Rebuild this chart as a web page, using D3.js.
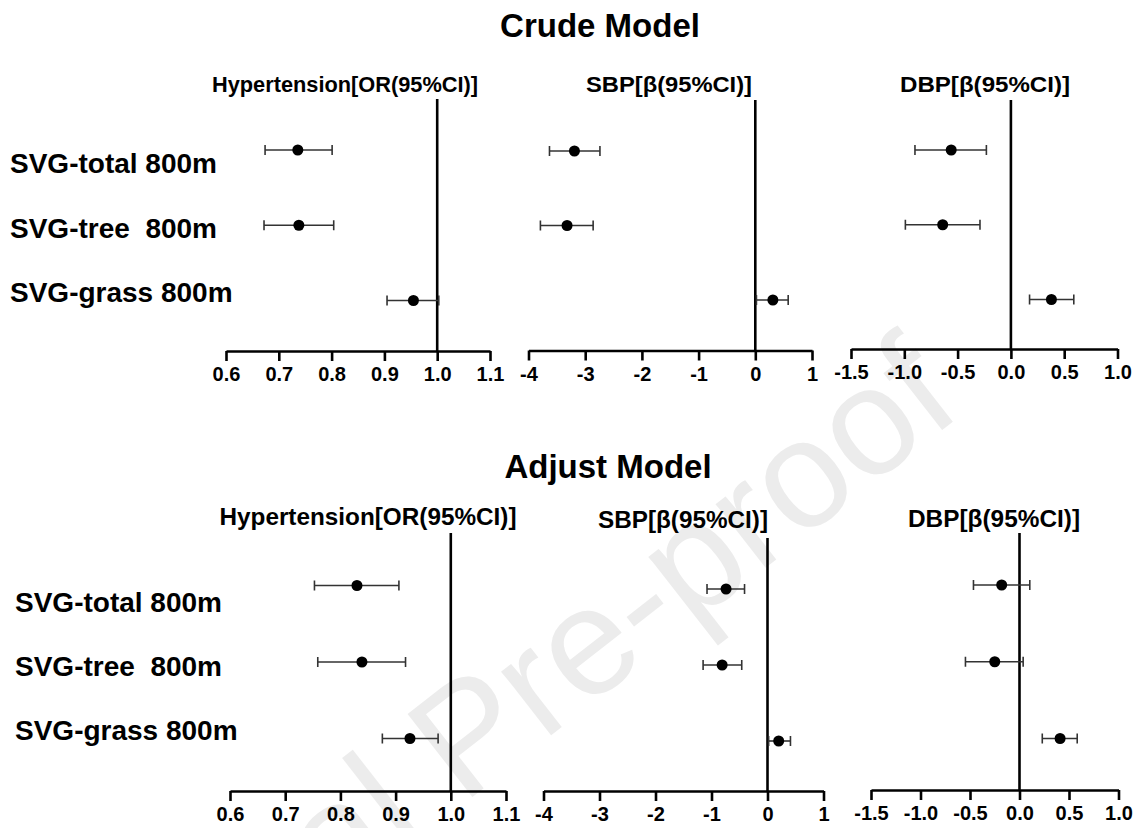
<!DOCTYPE html>
<html>
<head>
<meta charset="utf-8">
<script src="https://cdn.jsdelivr.net/npm/d3@7"></script>
<style>
  body { margin: 0; background: #fff; }
  svg { display: block; font-family: "Liberation Sans", Arial, sans-serif; }
</style>
</head>
<body>
<script>
// rows of both models
var categories = ["SVG-total 800m", "SVG-tree  800m", "SVG-grass 800m"];

// crude model
var crudeHtnOR = [0.736, 0.738, 0.955];
var crudeHtnLow = [0.674, 0.672, 0.905];
var crudeHtnHigh = [0.801, 0.804, 1.003];
var crudeSbpBeta = [-3.19, -3.32, 0.31];
var crudeSbpLow = [-3.63, -3.79, 0.02];
var crudeSbpHigh = [-2.74, -2.86, 0.58];
var crudeDbpBeta = [-0.56, -0.64, 0.38];
var crudeDbpLow = [-0.90, -0.99, 0.175];
var crudeDbpHigh = [-0.23, -0.29, 0.59];

// adjusted model
var adjHtnOR = [0.830, 0.839, 0.926];
var adjHtnLow = [0.753, 0.759, 0.876];
var adjHtnHigh = [0.906, 0.918, 0.977];
var adjSbpBeta = [-0.74, -0.81, 0.20];
var adjSbpLow = [-1.08, -1.15, 0.02];
var adjSbpHigh = [-0.41, -0.46, 0.41];
var adjDbpBeta = [-0.18, -0.25, 0.41];
var adjDbpLow = [-0.465, -0.546, 0.23];
var adjDbpHigh = [0.104, 0.037, 0.583];

// tick labels
var htnTicks = [0.6, 0.7, 0.8, 0.9, 1.0, 1.1];
var sbpTicks = [-4, -3, -2, -1, 0, 1];
var dbpTicks = [-1.5, -1.0, -0.5, 0.0, 0.5, 1.0];

var modelTitles = ["Crude Model", "Adjust Model"];
var panelTitles = ["Hypertension[OR(95%CI)]", "SBP[β(95%CI)]", "DBP[β(95%CI)]"];

var width = 1137, height = 828;
var locale = d3.formatLocale({decimal: ".", thousands: ",", grouping: [3], currency: ["", ""], minus: "-"});
var fmt1 = locale.format(".1f"), fmt0 = locale.format("d");

function rows(est, lo, hi) {
  return categories.map(function (c, i) { return {cat: c, est: est[i], lo: lo[i], hi: hi[i]}; });
}

// panel layout: x range, axis y, first/last row y, top of reference line, title centre/baseline
var panels = [
  {data: rows(crudeHtnOR, crudeHtnLow, crudeHtnHigh), ticks: htnTicks, fmt: fmt1, ref: 1, title: panelTitles[0],
   x: [226, 490], axisY: 351, rowY: [150, 300.5], top: 99, tx: 345, ty: 92, tlen: 266, fs: 22},
  {data: rows(crudeSbpBeta, crudeSbpLow, crudeSbpHigh), ticks: sbpTicks, fmt: fmt0, ref: 0, title: panelTitles[1],
   x: [528.5, 812], axisY: 350.5, rowY: [151, 300], top: 100, tx: 669, ty: 92, tlen: 166, fs: 22},
  {data: rows(crudeDbpBeta, crudeDbpLow, crudeDbpHigh), ticks: dbpTicks, fmt: fmt1, ref: 0, title: panelTitles[2],
   x: [851, 1117.5], axisY: 349, rowY: [150, 299.5], top: 100, tx: 985, ty: 92, tlen: 170, fs: 22},
  {data: rows(adjHtnOR, adjHtnLow, adjHtnHigh), ticks: htnTicks, fmt: fmt1, ref: 1, title: panelTitles[0],
   x: [230, 506], axisY: 791, rowY: [585.5, 738.5], top: 533, tx: 368, ty: 525, tlen: 297, fs: 24},
  {data: rows(adjSbpBeta, adjSbpLow, adjSbpHigh), ticks: sbpTicks, fmt: fmt0, ref: 0, title: panelTitles[1],
   x: [543.5, 823.5], axisY: 791, rowY: [589, 741], top: 538, tx: 683, ty: 528, tlen: 170, fs: 24},
  {data: rows(adjDbpBeta, adjDbpLow, adjDbpHigh), ticks: dbpTicks, fmt: fmt1, ref: 0, title: panelTitles[2],
   x: [871, 1118.5], axisY: 790, rowY: [585, 738.5], top: 533, tx: 994, ty: 527, tlen: 172, fs: 24}
];

var svg = d3.select("body").append("svg")
  .attr("width", width)
  .attr("height", height);

svg.append("rect").attr("width", width).attr("height", height).attr("fill", "#fff");

// faint watermark of the source page
svg.append("text")
  .attr("transform", "translate(965,412) rotate(-38)")
  .attr("text-anchor", "end")
  .attr("font-size", 153)
  .attr("fill", "#ececec")
  .text("Journal Pre-proof");

// model titles
svg.selectAll("text.model")
  .data(modelTitles)
  .enter().append("text")
  .attr("class", "model")
  .attr("x", function (d, i) { return i == 0 ? 600 : 608; })
  .attr("y", function (d, i) { return i == 0 ? 37 : 478; })
  .attr("text-anchor", "middle")
  .attr("font-size", 33)
  .attr("font-weight", "bold")
  .text(function (d) { return d; });

// row labels
var labelBlocks = [{x: 10, y: [173, 302]}, {x: 15, y: [612, 740]}];
labelBlocks.forEach(function (b) {
  var ly = d3.scalePoint().domain(categories).range(b.y);
  svg.append("g").selectAll("text")
    .data(categories)
    .enter().append("text")
    .attr("x", b.x)
    .attr("y", function (d) { return ly(d); })
    .attr("font-size", 28)
    .attr("font-weight", "bold")
    .attr("xml:space", "preserve")
    .style("white-space", "pre")
    .text(function (d) { return d; });
});

panels.forEach(function (p) {
  var x = d3.scaleLinear().domain([p.ticks[0], p.ticks[p.ticks.length - 1]]).range(p.x);
  var y = d3.scalePoint().domain(categories).range(p.rowY);
  var g = svg.append("g");

  g.append("text")
    .attr("x", p.tx)
    .attr("y", p.ty)
    .attr("text-anchor", "middle")
    .attr("font-size", p.fs)
    .attr("font-weight", "bold")
    .attr("textLength", p.tlen)
    .attr("lengthAdjust", "spacingAndGlyphs")
    .text(p.title);

  var axis = g.append("g")
    .attr("transform", "translate(0," + p.axisY + ")")
    .call(d3.axisBottom(x).tickValues(p.ticks).tickFormat(p.fmt).tickSize(10).tickSizeOuter(0).tickPadding(6));
  axis.select(".domain").attr("stroke", "#000").attr("stroke-width", 2.6);
  axis.selectAll(".tick line").attr("stroke", "#000").attr("stroke-width", 2.6);
  axis.selectAll(".tick text")
    .attr("fill", "#000")
    .attr("font-size", 20)
    .attr("font-weight", "bold")
    .attr("font-family", "Liberation Sans, Arial, sans-serif");

  // reference line
  g.append("line")
    .attr("x1", x(p.ref)).attr("x2", x(p.ref))
    .attr("y1", p.top).attr("y2", p.axisY)
    .attr("stroke", "#000")
    .attr("stroke-width", 2.6);

  var row = g.selectAll("g.row")
    .data(p.data)
    .enter().append("g")
    .attr("class", "row")
    .attr("transform", function (d) { return "translate(0," + y(d.cat) + ")"; });

  row.append("line")
    .attr("x1", function (d) { return x(d.lo); })
    .attr("x2", function (d) { return x(d.hi); })
    .attr("stroke", "#333").attr("stroke-width", 1.6);
  row.append("line")
    .attr("x1", function (d) { return x(d.lo); })
    .attr("x2", function (d) { return x(d.lo); })
    .attr("y1", -5).attr("y2", 5)
    .attr("stroke", "#333").attr("stroke-width", 1.6);
  row.append("line")
    .attr("x1", function (d) { return x(d.hi); })
    .attr("x2", function (d) { return x(d.hi); })
    .attr("y1", -5).attr("y2", 5)
    .attr("stroke", "#333").attr("stroke-width", 1.6);
  row.append("circle")
    .attr("cx", function (d) { return x(d.est); })
    .attr("r", 5.5)
    .attr("fill", "#000");
});
</script>
</body>
</html>
